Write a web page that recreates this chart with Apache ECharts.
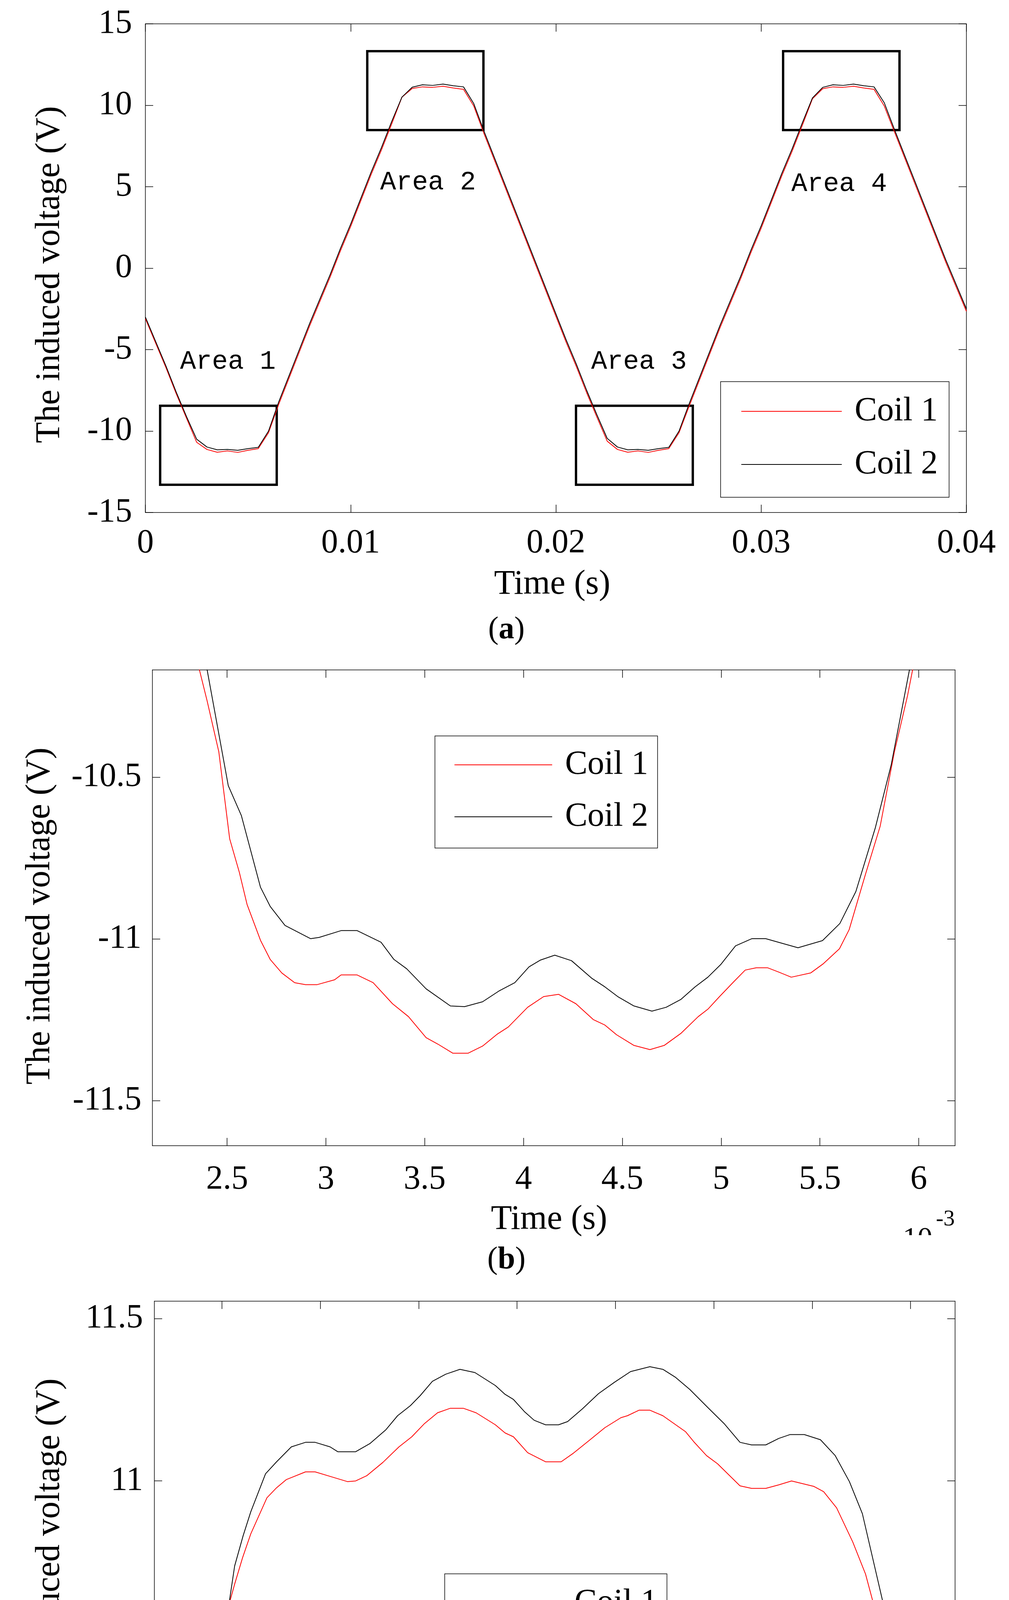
<!DOCTYPE html>
<html>
<head>
<meta charset="utf-8">
<title>Induced voltage of Coil 1 and Coil 2</title>
<script src="https://cdn.jsdelivr.net/npm/echarts@6.0.0/dist/echarts.min.js"></script>
<style>
html, body { margin: 0; padding: 0; background: #fff; }
#main { width: 2582px; height: 4910px; }
</style>
</head>
<body>
<div id="main"></div>
<script>
// ---------- data ----------
// (a) whole window, seconds; both coils on the same time grid
var timeA = [0, 0.0005, 0.001, 0.0015, 0.002, 0.0025, 0.003, 0.0035, 0.004, 0.0045,
  0.005, 0.0055, 0.006, 0.0065, 0.007, 0.0075, 0.008, 0.0085, 0.009, 0.0095,
  0.010, 0.0105, 0.011, 0.0115, 0.012, 0.0125, 0.013, 0.0135, 0.014, 0.0145,
  0.015, 0.0155, 0.016, 0.0165, 0.017, 0.0175, 0.018, 0.0185, 0.019, 0.0195,
  0.020, 0.0205, 0.021, 0.0215, 0.022, 0.0225, 0.023, 0.0235, 0.024, 0.0245,
  0.025, 0.0255, 0.026, 0.0265, 0.027, 0.0275, 0.028, 0.0285, 0.029, 0.0295,
  0.030, 0.0305, 0.031, 0.0315, 0.032, 0.0325, 0.033, 0.0335, 0.034, 0.0345,
  0.035, 0.0355, 0.036, 0.0365, 0.037, 0.0375, 0.038, 0.0385, 0.039, 0.0395, 0.040];
var coil1A = [-3.1, -4.6, -6.1, -7.7, -9.2, -10.69, -11.13, -11.30, -11.22, -11.31,
  -11.18, -11.08, -10.1, -8.35, -6.75, -5.15, -3.55, -2.05, -0.55, 1.05,
  2.55, 4.15, 5.75, 7.25, 8.85, 10.5, 11.03, 11.13, 11.10, 11.17,
  11.06, 10.98, 9.95, 8.25, 6.65, 5.05, 3.45, 1.85, 0.25, -1.35,
  -2.95, -4.55, -6.05, -7.65, -9.15, -10.62, -11.13, -11.30, -11.22, -11.31,
  -11.18, -11.08, -10.1, -8.45, -6.85, -5.25, -3.65, -2.15, -0.65, 0.95,
  2.45, 4.05, 5.65, 7.15, 8.75, 10.4, 11.02, 11.13, 11.10, 11.17,
  11.06, 10.98, 9.95, 8.35, 6.75, 5.15, 3.55, 1.95, 0.35, -1.15, -2.65];
var coil2A = [-3.0, -4.5, -6.0, -7.6, -9.1, -10.5, -10.98, -11.15, -11.13, -11.18,
  -11.08, -11.0, -10.0, -8.2, -6.6, -5.0, -3.4, -1.9, -0.4, 1.2,
  2.7, 4.3, 5.9, 7.4, 9.0, 10.5, 11.11, 11.26, 11.22, 11.30,
  11.20, 11.13, 10.1, 8.4, 6.8, 5.2, 3.6, 2.0, 0.4, -1.2,
  -2.8, -4.4, -5.9, -7.5, -9.0, -10.45, -10.98, -11.15, -11.13, -11.18,
  -11.08, -11.0, -10.0, -8.3, -6.7, -5.1, -3.5, -2.0, -0.5, 1.1,
  2.6, 4.2, 5.8, 7.3, 8.9, 10.45, 11.1, 11.26, 11.22, 11.30,
  11.2, 11.13, 10.15, 8.5, 6.9, 5.3, 3.7, 2.1, 0.5, -1.0, -2.5];

// (b) Area 1 close-up, time in ms
var coil1BTime = [2.330, 2.360, 2.399, 2.458, 2.513, 2.562, 2.601, 2.669, 2.718, 2.777,
  2.842, 2.897, 2.956, 3.044, 3.077, 3.158, 3.239, 3.337, 3.418, 3.507,
  3.567, 3.642, 3.720, 3.793, 3.865, 3.923, 4.021, 4.102, 4.177, 4.265,
  4.353, 4.412, 4.471, 4.559, 4.640, 4.712, 4.796, 4.884, 4.933, 4.992,
  5.064, 5.122, 5.178, 5.236, 5.291, 5.355, 5.453, 5.518, 5.599, 5.648,
  5.730, 5.805, 5.877, 5.943, 5.969, 6.000];
var coil1BVolt = [-10.06, -10.168, -10.264, -10.421, -10.690, -10.794, -10.893, -11.004, -11.063, -11.105,
  -11.135, -11.141, -11.141, -11.126, -11.111, -11.111, -11.135, -11.200, -11.240, -11.305,
  -11.325, -11.353, -11.353, -11.331, -11.295, -11.272, -11.211, -11.178, -11.171, -11.200,
  -11.249, -11.266, -11.296, -11.329, -11.342, -11.329, -11.292, -11.240, -11.217, -11.178,
  -11.132, -11.096, -11.089, -11.089, -11.102, -11.118, -11.105, -11.076, -11.030, -10.971,
  -10.801, -10.651, -10.421, -10.249, -10.168, -10.05];
var coil2BTime = [2.360, 2.399, 2.506, 2.572, 2.669, 2.718, 2.793, 2.923, 2.966, 3.077, 3.158,
  3.279, 3.344, 3.409, 3.507, 3.630, 3.702, 3.793, 3.875, 3.956, 4.028,
  4.086, 4.158, 4.243, 4.347, 4.412, 4.477, 4.559, 4.650, 4.722, 4.796,
  4.868, 4.933, 4.998, 5.073, 5.155, 5.226, 5.308, 5.389, 5.513, 5.601,
  5.682, 5.780, 5.861, 5.953, 5.990];
var coil2BVolt = [-10.04, -10.168, -10.526, -10.618, -10.840, -10.899, -10.958, -10.999, -10.995, -10.974, -10.974,
  -11.010, -11.063, -11.092, -11.154, -11.207, -11.209, -11.194, -11.161, -11.135, -11.086,
  -11.065, -11.050, -11.067, -11.122, -11.148, -11.178, -11.207, -11.223, -11.211, -11.187,
  -11.148, -11.118, -11.079, -11.021, -10.999, -10.999, -11.013, -11.027, -11.005, -10.952,
  -10.853, -10.657, -10.461, -10.168, -10.03];

// (c) Area 2 close-up, time in ms
var coil1CTime = [12.34, 12.359, 12.402, 12.451, 12.500, 12.565, 12.605, 12.647, 12.729, 12.778,
  12.827, 12.925, 12.974, 13.072, 13.138, 13.180, 13.236, 13.318, 13.400, 13.465,
  13.530, 13.596, 13.661, 13.727, 13.792, 13.890, 13.939, 13.982, 14.054, 14.145,
  14.224, 14.283, 14.365, 14.446, 14.528, 14.561, 14.620, 14.675, 14.741, 14.856,
  14.898, 14.963, 15.019, 15.133, 15.192, 15.264, 15.330, 15.395, 15.509, 15.558,
  15.624, 15.706, 15.771, 15.820, 15.869, 15.935, 15.977, 16.00];
var coil1CVolt = [9.97, 10.089, 10.256, 10.404, 10.540, 10.682, 10.763, 10.837, 10.948, 10.979,
  11.004, 11.028, 11.028, 11.010, 10.998, 11.000, 11.016, 11.057, 11.105, 11.136,
  11.177, 11.210, 11.224, 11.224, 11.210, 11.173, 11.148, 11.136, 11.087, 11.059,
  11.059, 11.084, 11.124, 11.164, 11.195, 11.201, 11.218, 11.218, 11.201, 11.152,
  11.121, 11.078, 11.053, 10.985, 10.977, 10.977, 10.988, 11.000, 10.983, 10.967,
  10.917, 10.812, 10.713, 10.602, 10.466, 10.293, 10.089, 9.96];
var coil2CTime = [12.33, 12.353, 12.412, 12.467, 12.510, 12.565, 12.608, 12.647, 12.722, 12.778,
  12.853, 12.925, 12.974, 13.050, 13.089, 13.180, 13.252, 13.334, 13.393, 13.458,
  13.508, 13.570, 13.638, 13.710, 13.786, 13.890, 13.939, 13.982, 14.037, 14.087,
  14.145, 14.211, 14.257, 14.332, 14.414, 14.495, 14.577, 14.675, 14.741, 14.806,
  14.878, 14.970, 15.052, 15.133, 15.192, 15.264, 15.330, 15.388, 15.460, 15.542,
  15.617, 15.689, 15.755, 15.859, 15.944, 16.010, 16.04];
var coil2CVolt = [9.95, 10.089, 10.293, 10.410, 10.515, 10.738, 10.831, 10.905, 11.022, 11.059,
  11.105, 11.119, 11.119, 11.105, 11.090, 11.090, 11.115, 11.158, 11.201, 11.232,
  11.263, 11.307, 11.329, 11.344, 11.334, 11.294, 11.267, 11.251, 11.214, 11.187,
  11.173, 11.173, 11.183, 11.222, 11.269, 11.304, 11.337, 11.352, 11.344, 11.319,
  11.282, 11.226, 11.177, 11.119, 11.111, 11.111, 11.131, 11.143, 11.143, 11.127,
  11.078, 10.998, 10.899, 10.627, 10.355, 10.089, 9.97];

// tick values
var ticksAX = [0, 0.01, 0.02, 0.03, 0.04];
var ticksAY = [-15, -10, -5, 0, 5, 10, 15];
var ticksBX = [2.5, 3, 3.5, 4, 4.5, 5, 5.5, 6];
var ticksBY = [-11.5, -11, -10.5];
var ticksCX = [12.5, 13, 13.5, 14, 14.5, 15, 15.5, 16];
var ticksCY = [10.5, 11, 11.5];

// zoom boxes and their labels in (a): [t0, v0, t1, v1]
var areaBoxes = [[0.00072, -13.30, 0.0064, -8.45], [0.01081, 8.48, 0.01647, 13.32],
  [0.02098, -13.30, 0.02667, -8.45], [0.03107, 8.48, 0.03674, 13.32]];
var areaNames = ['Area 1', 'Area 2', 'Area 3', 'Area 4'];
var areaLabelAt = [[0.00402, -5.74], [0.01377, 5.26], [0.02405, -5.74], [0.03380, 5.17]];

var seriesNames = ['Coil 1', 'Coil 2'];
var seriesColors = ['#ff0000', '#000000'];

// ---------- chart ----------
var FONT = 'Liberation Serif';
var chart = echarts.init(document.getElementById('main'));

function pairs(t, v) {
    return t.map(function (x, i) { return [x, v[i]]; });
}

function makeAxis(grid, min, max, ticks, side, margin, fmt) {
    return {
        type: 'value', gridIndex: grid, min: min, max: max, position: side,
        splitLine: { show: false },
        axisLine: { show: true, onZero: false, lineStyle: { color: '#000', width: 1.5 } },
        axisTick: { show: true, inside: true, length: 20, customValues: ticks,
            lineStyle: { color: '#000', width: 1.5 } },
        axisLabel: { show: margin != null, customValues: ticks, margin: margin || 0,
            color: '#000', fontFamily: FONT, fontSize: 86, formatter: fmt }
    };
}

function msToSec(v) {
    return parseFloat((v / 1000).toFixed(4)).toString();
}

function line(name, color, xi, data, z) {
    return {
        type: 'line', name: name, xAxisIndex: xi, yAxisIndex: xi, data: data,
        symbol: 'none', z: z, animation: false,
        lineStyle: { color: color, width: 2 }, itemStyle: { color: color }
    };
}

// legend: plain line sample + label inside a thin black box
function legendBox(left, top, pad, gap, sample) {
    return {
        data: seriesNames.map(function (n, i) {
            return { name: n, icon: 'rect', itemStyle: { color: seriesColors[i] } };
        }),
        orient: 'vertical', left: left, top: top,
        padding: pad, itemGap: gap, itemWidth: sample, itemHeight: 2,
        borderColor: '#000', borderWidth: 1.5, backgroundColor: '#fff',
        selectedMode: false,
        textStyle: { fontFamily: FONT, fontSize: 86, lineHeight: 88, color: '#000',
            padding: [0, 0, 0, 28] }
    };
}

function centered(text, x, y, size, rot) {
    return {
        type: 'text', x: x, y: y, rotation: rot || 0,
        style: { text: text, fontFamily: FONT, fontSize: size, fill: '#000',
            align: 'center', verticalAlign: 'middle',
            textAlign: 'center', textVerticalAlign: 'middle' }
    };
}

function caption(letter, x, y) {
    return {
        type: 'text', x: x, y: y,
        style: { text: '({b|' + letter + '})', fontFamily: FONT, fontSize: 80, fill: '#000',
            align: 'center', verticalAlign: 'middle',
            textAlign: 'center', textVerticalAlign: 'middle',
            rich: { b: { fontFamily: FONT, fontSize: 80, fontWeight: 'bold', fill: '#000' } } }
    };
}

var coil1ASeries = line(seriesNames[0], seriesColors[0], 0, pairs(timeA, coil1A), 2);
coil1ASeries.markArea = {
    silent: true,
    itemStyle: { color: 'rgba(0,0,0,0)', borderColor: '#000', borderWidth: 6 },
    data: areaBoxes.map(function (b) { return [{ coord: [b[0], b[1]] }, { coord: [b[2], b[3]] }]; })
};
coil1ASeries.markPoint = {
    silent: true, symbol: 'rect', symbolSize: 1,
    itemStyle: { color: 'rgba(0,0,0,0)' },
    label: { show: true, position: 'inside', formatter: '{b}', color: '#000',
        fontFamily: 'Liberation Mono', fontSize: 68 },
    data: areaNames.map(function (n, i) { return { name: n, coord: areaLabelAt[i] }; })
};

var option = {
    backgroundColor: '#fff',
    animation: false,
    grid: [
        { left: 372, top: 61, width: 2101, height: 1251, outerBoundsMode: 'none' },
        { left: 390, top: 1715, width: 2054, height: 1218, outerBoundsMode: 'none' },
        { left: 395, top: 3331, width: 2049, height: 1217, outerBoundsMode: 'none' }
    ],
    xAxis: [
        makeAxis(0, 0, 0.04, ticksAX, 'bottom', 36),
        makeAxis(0, 0, 0.04, ticksAX, 'top', null),
        makeAxis(1, 2.122, 6.184, ticksBX, 'bottom', 44),
        makeAxis(1, 2.122, 6.184, ticksBX, 'top', null),
        makeAxis(2, 12.157, 16.226, ticksCX, 'bottom', 44, msToSec),
        makeAxis(2, 12.157, 16.226, ticksCX, 'top', null)
    ],
    yAxis: [
        makeAxis(0, -15, 15, ticksAY, 'left', 34),
        makeAxis(0, -15, 15, ticksAY, 'right', null),
        makeAxis(1, -11.639, -10.168, ticksBY, 'left', 28),
        makeAxis(1, -11.639, -10.168, ticksBY, 'right', null),
        makeAxis(2, 10.089, 11.554, ticksCY, 'left', 29),
        makeAxis(2, 10.089, 11.554, ticksCY, 'right', null)
    ],
    legend: [
        legendBox(1844, 977, [32, 29, 40, 53], 48, 257),
        legendBox(1113, 1884, [30, 24, 36, 50], 45, 250),
        legendBox(1138, 4029, [31, 24, 37, 49], 44, 250)
    ],
    series: [
        coil1ASeries,
        line(seriesNames[1], seriesColors[1], 0, pairs(timeA, coil2A), 3),
        line(seriesNames[0], seriesColors[0], 2, pairs(coil1BTime, coil1BVolt), 2),
        line(seriesNames[1], seriesColors[1], 2, pairs(coil2BTime, coil2BVolt), 3),
        line(seriesNames[0], seriesColors[0], 4, pairs(coil1CTime, coil1CVolt), 2),
        line(seriesNames[1], seriesColors[1], 4, pairs(coil2CTime, coil2CVolt), 3)
    ],
    graphic: [
        centered('The induced voltage (V)', 128, 703, 88, Math.PI / 2),
        centered('The induced voltage (V)', 103, 2345, 88, Math.PI / 2),
        centered('The induced voltage (V)', 128, 3960, 88, Math.PI / 2),
        centered('Time (s)', 1413, 1497, 88),
        centered('Time (s)', 1405, 3123, 88),
        centered('Time (s)', 1411, 4732, 88),
        caption('a', 1296, 1613),
        caption('b', 1296, 3226),
        caption('c', 1296, 4835),
        // x10^-3 multiplier of (b); its base is cut off in the original
        { type: 'text', x: 2310, y: 3136, z: 99,
          style: { text: '10', fontFamily: FONT, fontSize: 76, fill: '#000',
              align: 'left', verticalAlign: 'top', textAlign: 'left', textVerticalAlign: 'top' } },
        { type: 'rect', z: 100, shape: { x: 2290, y: 3162, width: 120, height: 40 },
          style: { fill: '#fff' } },
        { type: 'text', x: 2395, y: 3093, z: 101,
          style: { text: '-3', fontFamily: FONT, fontSize: 58, fill: '#000',
              align: 'left', verticalAlign: 'top', textAlign: 'left', textVerticalAlign: 'top' } }
    ]
};

chart.setOption(option);
</script>
</body>
</html>
